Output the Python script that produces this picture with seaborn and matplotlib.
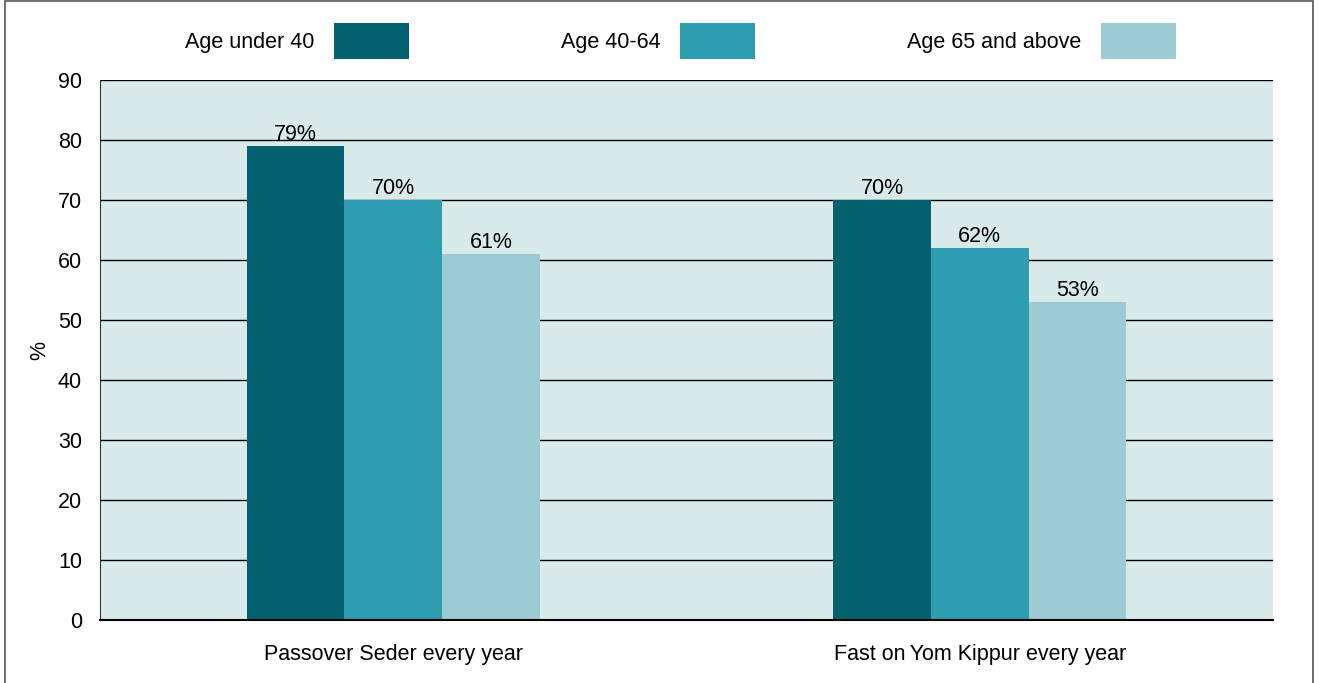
import matplotlib
matplotlib.use("Agg")
import matplotlib.pyplot as plt
from matplotlib.patches import Rectangle
import seaborn as sns
import pandas as pd

categories = ["Passover Seder every year", "Fast on\u2009Yom Kippur every year"]
age_groups = ["Age under 40", "Age 40-64", "Age 65 and above"]
under_40 = [79, 70]
age_40_64 = [70, 62]
age_65_up = [61, 53]

colors = ["#02606f", "#2e9daf", "#9dcbd4"]

rows = []
for grp, vals in zip(age_groups, [under_40, age_40_64, age_65_up]):
    for cat, v in zip(categories, vals):
        rows.append({"category": cat, "age": grp, "value": v})
df = pd.DataFrame(rows)

sns.set_style("white")
plt.rcParams["font.family"] = ["Liberation Sans", "DejaVu Sans"]
plt.rcParams["text.color"] = "black"
fs = 15.5

fig = plt.figure(figsize=(13.19, 6.83), dpi=100)
ax = fig.add_axes([100 / 1319, 1 - 620 / 683, 1173 / 1319, 540 / 683])

sns.barplot(data=df, x="category", y="value", hue="age", palette=colors,
            width=0.5, saturation=1, linewidth=0, ax=ax, legend=True)

ax.set_facecolor("#d9eaeb")
ax.set_ylim(0, 90)
ax.set_xlim(-0.5, 1.5)
ax.set_yticks(range(0, 91, 10))
ax.yaxis.grid(True, color="black", linewidth=1)
ax.set_axisbelow(True)
for s in ["top", "right"]:
    ax.spines[s].set_visible(False)
ax.spines["left"].set_color("#333333")
ax.spines["bottom"].set_color("black")
ax.spines["bottom"].set_linewidth(1.5)
ax.tick_params(axis="both", length=0, labelsize=fs, colors="black")
ax.tick_params(axis="y", pad=13)
ax.tick_params(axis="x", pad=17)
ax.set_xlabel("")
ax.set_ylabel("%", fontsize=fs, color="black")
ax.yaxis.set_label_coords(-50 / 1173, 0.5)

for cont in ax.containers:
    ax.bar_label(cont, fmt="%d%%", fontsize=fs, padding=1, color="black")

handles, labels = ax.get_legend_handles_labels()
ax.legend(handles, labels, ncol=3, frameon=False, markerfirst=False,
          loc="center", bbox_to_anchor=(0.495, 1.072), fontsize=fs,
          handlelength=3.5, handleheight=2.2, columnspacing=7.05, handletextpad=0.9)

fig.patches.append(Rectangle((5 / 1319, -0.05), 1308 / 1319, 1.05 - 1 / 683,
                             transform=fig.transFigure, fill=False,
                             edgecolor="#555555", linewidth=1.2))

fig.savefig("out.png", dpi=100)
